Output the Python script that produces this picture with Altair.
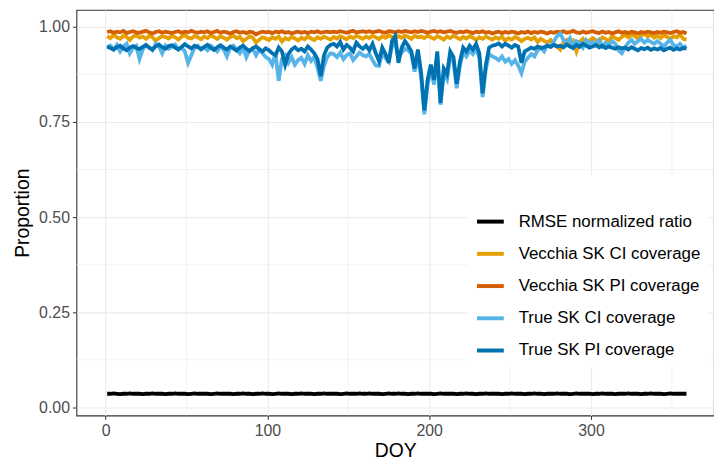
import altair as alt
import pandas as pd

# Day of year (every second day)
doy = list(range(1, 360, 2))

rmse_ratio = [
    .036, .036, .037, .036, .035, .036, .036, .037, .036, .036,
    .036, .035, .036, .036, .037, .036, .036, .036, .035, .036,
    .036, .037, .036, .036, .036, .035, .036, .037, .036, .036,
    .036, .036, .035, .036, .037, .036, .036, .036, .036, .035,
    .036, .036, .037, .036, .036, .035, .036, .036, .037, .036,
    .036, .035, .036, .037, .036, .036, .036, .035, .036, .036,
    .037, .036, .036, .036, .035, .036, .036, .037, .036, .036,
    .036, .036, .035, .036, .037, .036, .036, .036, .037, .036,
    .036, .037, .036, .036, .036, .035, .036, .037, .036, .036,
    .037, .036, .036, .035, .036, .036, .037, .036, .036, .036,
    .036, .035, .036, .037, .036, .036, .036, .036, .035, .036,
    .036, .037, .036, .036, .035, .036, .036, .037, .036, .036,
    .036, .036, .035, .036, .036, .037, .036, .036, .036, .035,
    .036, .036, .037, .036, .036, .035, .036, .036, .036, .037,
    .036, .036, .036, .035, .036, .037, .036, .036, .036, .036,
    .035, .036, .036, .037, .036, .036, .036, .035, .036, .036,
    .036, .037, .036, .036, .036, .035, .036, .036, .037, .036,
    .036, .036, .035, .036, .037, .036, .036, .036, .036, .036,
]

vecchia_ci = [
    .975, .970, .978, .972, .968, .976, .973, .965, .974, .977,
    .971, .974, .968, .976, .972, .963, .970, .975, .973, .969,
    .976, .972, .966, .974, .978, .971, .969, .975, .972, .967,
    .974, .970, .977, .973, .968, .975, .971, .966, .973, .976,
    .970, .973, .962, .968, .975, .971, .958, .966, .972, .969,
    .965, .972, .968, .974, .961, .970, .966, .973, .969, .964,
    .971, .967, .974, .969, .965, .972, .968, .974, .970, .966,
    .973, .969, .975, .971, .967, .974, .970, .976, .972, .968,
    .974, .970, .976, .972, .967, .975, .971, .977, .973, .969,
    .975, .971, .977, .973, .968, .976, .972, .974, .970, .976,
    .972, .968, .975, .971, .966, .974, .970, .976, .972, .967,
    .973, .969, .975, .971, .965, .972, .968, .974, .970, .966,
    .972, .968, .974, .963, .970, .966, .973, .969, .962, .968,
    .971, .966, .972, .960, .968, .963, .958, .965, .955, .948,
    .940, .958, .965, .952, .962, .935, .960, .968, .955, .963,
    .970, .965, .958, .972, .968, .962, .975, .970, .965, .973,
    .978, .972, .980, .975, .969, .977, .982, .974, .979, .971,
    .976, .970, .978, .973, .968, .975, .972, .980, .968, .966,
]

vecchia_pi = [
    .986, .988, .984, .987, .985, .989, .983, .986, .988, .985,
    .984, .987, .989, .985, .982, .986, .988, .984, .987, .985,
    .983, .986, .988, .984, .987, .985, .989, .986, .984, .987,
    .985, .988, .983, .986, .989, .984, .987, .985, .982, .986,
    .988, .984, .986, .983, .987, .985, .980, .984, .987, .985,
    .986, .983, .987, .985, .988, .984, .986, .982, .985, .987,
    .984, .986, .983, .987, .985, .988, .984, .986, .987, .985,
    .987, .985, .988, .986, .984, .987, .989, .985, .986, .988,
    .986, .988, .985, .987, .989, .986, .984, .988, .987, .985,
    .988, .986, .989, .987, .985, .988, .986, .989, .987, .984,
    .987, .989, .986, .988, .985, .987, .989, .986, .984, .987,
    .985, .988, .986, .983, .987, .985, .988, .984, .986, .982,
    .985, .987, .983, .986, .984, .987, .985, .982, .986, .984,
    .987, .983, .986, .984, .987, .985, .982, .986, .984, .987,
    .985, .988, .984, .986, .989, .985, .983, .987, .984, .986,
    .988, .985, .983, .987, .984, .986, .982, .985, .988, .984,
    .986, .983, .987, .985, .982, .986, .984, .987, .985, .983,
    .986, .984, .987, .985, .983, .986, .988, .984, .986, .982,
]

true_ci = [
    .945, .950, .940, .952, .935, .948, .955, .930, .945, .950,
    .915, .940, .952, .945, .938, .955, .948, .930, .950, .942,
    .948, .953, .940, .945, .935, .905, .925, .945, .950, .940,
    .945, .938, .950, .943, .935, .948, .940, .922, .945, .950,
    .940, .930, .945, .920, .938, .942, .925, .940, .930, .920,
    .915, .900, .930, .858, .915, .925, .905, .920, .900, .912,
    .918, .902, .925, .910, .920, .892, .858, .898, .920, .930,
    .928, .920, .932, .915, .925, .930, .912, .922, .932, .925,
    .922, .928, .912, .898, .897, .932, .918, .908, .948, .958,
    .918, .932, .942, .938, .928, .882, .922, .868, .770, .848,
    .888, .848, .922, .795, .878, .862, .922, .908, .838, .898,
    .932, .922, .938, .928, .942, .918, .815, .888, .928, .922,
    .918, .912, .922, .908, .915, .902, .912, .898, .878, .908,
    .918, .928, .922, .938, .945, .935, .952, .948, .962, .975,
    .982, .965, .955, .970, .948, .962, .958, .945, .965, .955,
    .960, .952, .965, .948, .958, .952, .962, .955, .938, .930,
    .945, .958, .965, .955, .962, .968, .958, .965, .960, .955,
    .962, .955, .948, .958, .965, .952, .948, .955, .945, .950,
]

true_pi = [
    .948, .944, .940, .946, .950, .943, .938, .945, .949, .944,
    .941, .947, .952, .945, .940, .948, .953, .946, .942, .949,
    .951, .945, .940, .947, .954, .948, .943, .950, .946, .941,
    .947, .952, .944, .939, .946, .951, .945, .940, .948, .943,
    .937, .945, .950, .942, .936, .944, .948, .941, .935, .943,
    .938, .930, .925, .945, .935, .900, .928, .940, .946, .938,
    .942, .935, .948, .940, .930, .915, .870, .925, .945, .952,
    .955, .948, .960, .940, .952, .945, .935, .958, .948, .942,
    .950, .938, .955, .930, .910, .945, .928, .905, .962, .975,
    .905, .945, .962, .950, .935, .890, .940, .880, .780, .860,
    .900, .860, .935, .800, .890, .875, .935, .920, .850, .908,
    .945, .935, .950, .940, .955, .930, .825, .900, .945, .950,
    .952, .956, .948, .955, .950, .945, .952, .948, .905, .935,
    .940, .945, .942, .948, .944, .946, .950, .947, .952, .948,
    .950, .946, .953, .948, .944, .952, .947, .955, .950, .945,
    .948, .952, .946, .950, .944, .948, .945, .942, .946, .943,
    .945, .940, .946, .942, .938, .944, .941, .945, .939, .943,
    .940, .944, .938, .942, .945, .939, .943, .940, .944, .942,
]

series_names = [
    "RMSE normalized ratio",
    "Vecchia SK CI coverage",
    "Vecchia SK PI coverage",
    "True SK CI coverage",
    "True SK PI coverage",
]
series_values = [rmse_ratio, vecchia_ci, vecchia_pi, true_ci, true_pi]
series_colors = ["#000000", "#E69F00", "#D55E00", "#56B4E9", "#0072B2"]

x_ticks = [0, 100, 200, 300]
y_ticks = [0.0, 0.25, 0.5, 0.75, 1.0]
x_minor = [50, 150, 250, 350]
y_minor = [0.125, 0.375, 0.625, 0.875]

rows = []
for name, vals in zip(series_names, series_values):
    for d, v in zip(doy, vals):
        rows.append({"DOY": d, "value": v, "series": name})
df = pd.DataFrame(rows)

FONT = "Liberation Sans"
x_scale = alt.Scale(domain=[-18, 376], nice=False, zero=False)
y_scale = alt.Scale(domain=[-0.021, 1.044], nice=False, zero=False)

color = alt.Color(
    "series:N",
    scale=alt.Scale(domain=series_names, range=series_colors),
    legend=alt.Legend(
        title=" ",
        titleFontSize=14,
        titlePadding=9,
        orient="none",
        legendX=394,
        legendY=167,
        padding=8,
        fillColor="white",
        symbolType="stroke",
        symbolSize=729,
        symbolStrokeWidth=4,
        labelFontSize=17,
        labelFont=FONT,
        labelColor="#000000",
        labelOffset=13,
        rowPadding=8.5,
        labelLimit=400,
    ),
)

minor_x = alt.Chart(pd.DataFrame({"x": x_minor})).mark_rule(
    color="#EBEBEB", strokeWidth=0.6
).encode(x=alt.X("x:Q", scale=x_scale))
minor_y = alt.Chart(pd.DataFrame({"y": y_minor})).mark_rule(
    color="#EBEBEB", strokeWidth=0.6
).encode(y=alt.Y("y:Q", scale=y_scale))

base = alt.Chart(df).encode(
    x=alt.X(
        "DOY:Q",
        scale=x_scale,
        axis=alt.Axis(
            values=x_ticks,
            title="DOY",
            grid=True,
            gridColor="#EBEBEB",
            gridWidth=1.1,
            domain=False,
            tickColor="#333333",
            tickSize=4,
            labelFontSize=16,
            labelColor="#4D4D4D",
            labelFont=FONT,
            labelPadding=3,
            titleFont=FONT,
            titleFontSize=19.5,
            titleFontWeight="normal",
            titleColor="#000000",
            titlePadding=3,
        ),
    ),
    y=alt.Y(
        "value:Q",
        scale=y_scale,
        axis=alt.Axis(
            values=y_ticks,
            format=".2f",
            title="Proportion",
            grid=True,
            gridColor="#EBEBEB",
            gridWidth=1.1,
            domain=False,
            tickColor="#333333",
            tickSize=4,
            labelFontSize=16,
            labelColor="#4D4D4D",
            labelFont=FONT,
            labelPadding=3,
            titleFont=FONT,
            titleFontSize=19.5,
            titleFontWeight="normal",
            titleColor="#000000",
            titlePadding=6,
        ),
    ),
    color=color,
)

layers = [minor_x, minor_y]
for name in series_names:
    layers.append(
        base.transform_filter(alt.datum.series == name).mark_line(strokeWidth=3.8)
    )

chart = alt.layer(*layers).properties(
    width=643,
    height=409,
    autosize=alt.AutoSizeParams(type="none"),
    padding={"left": 69, "top": 0, "right": 0, "bottom": 44},
).configure_view(stroke="#333333", strokeWidth=1.1)

chart.save("out.html", embed_options={"renderer": "svg", "actions": False})
